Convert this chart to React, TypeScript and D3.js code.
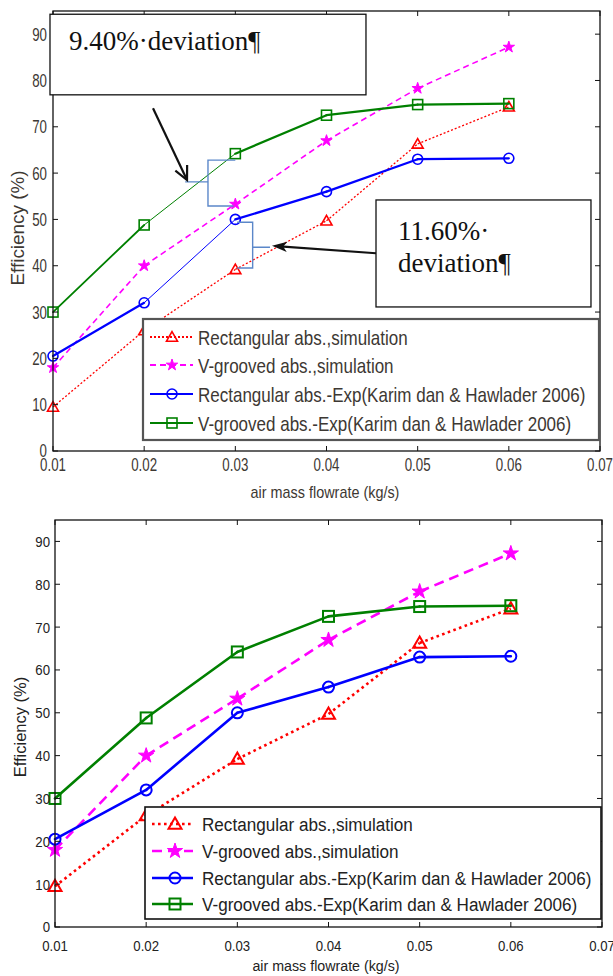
import React from 'react';
import * as d3 from 'd3';

// values
const flowrate = [0.01, 0.02, 0.03, 0.04, 0.05, 0.06];
const rectSim = [9.5, 26, 39.2, 49.7, 66.3, 74.3];
const vSim = [18, 40, 53.3, 67, 78.3, 87.2];
const rectExp = [20.5, 32, 50, 56, 63, 63.2];
const vExp = [30, 48.8, 64.2, 72.5, 74.8, 75];
const xTicks = [0.01, 0.02, 0.03, 0.04, 0.05, 0.06, 0.07];
const yTicks = [0, 10, 20, 30, 40, 50, 60, 70, 80, 90];
const seriesNames = [
  'Rectangular abs.,simulation',
  'V-grooved abs.,simulation',
  'Rectangular abs.-Exp(Karim dan & Hawlader 2006)',
  'V-grooved abs.-Exp(Karim dan & Hawlader 2006)',
];
const seriesValues = [rectSim, vSim, rectExp, vExp];

const SANS = '"Liberation Sans", Arial, sans-serif';
const SERIF = '"Liberation Serif", "Times New Roman", serif';
const COLORS = ['#ff0000', '#ff00ff', '#0000ff', '#008000'];
const MARKERS = ['triangle', 'star', 'circle', 'square'];

// squeezed text, the scanned figure is stretched
const SText = ({ x, y, size, sx = 1, anchor = 'start', rotate = 0, family = SANS, fill = '#111', children }: any) => (
  <text
    transform={`translate(${x},${y}) rotate(${rotate}) scale(${sx},1)`}
    fontSize={size}
    fontFamily={family}
    textAnchor={anchor}
    fill={fill}
  >
    {children}
  </text>
);

const Marker = ({ kind, x, y, color, size, sw }: any) => {
  if (kind === 'circle')
    return <circle cx={x} cy={y} r={size / 2} fill="none" stroke={color} strokeWidth={sw} />;
  if (kind === 'square')
    return <rect x={x - size / 2} y={y - size / 2} width={size} height={size} fill="none" stroke={color} strokeWidth={sw} />;
  if (kind === 'triangle') {
    const d = d3.symbol(d3.symbolTriangle, size * size * 0.433)();
    return <path d={d!} transform={`translate(${x},${y + 1})`} fill="none" stroke={color} strokeWidth={sw} />;
  }
  const d = d3.symbol(d3.symbolStar, (size * size) / 4 / 0.89)();
  return <path d={d!} transform={`translate(${x},${y})`} fill={color} stroke={color} strokeWidth={1} />;
};

const TOP = {
  frame: { left: 53, right: 600, top: 11, bottom: 451 },
  tickText: { size: 18, sx: 0.74, fill: '#3d3833' },
  xTickBase: 471,
  yTickRight: 47,
  xLabel: { x: 325, y: 498, size: 16, sx: 0.9 },
  yLabel: { x: 24, y: 228, size: 18, sx: 1.05 },
  widths: [
    [1.3, 1.3, 1.3, 1.3, 1.3],
    [1.6, 1.6, 1.6, 1.6, 1.6],
    [2.2, 1, 2.2, 2.2, 2.2],
    [1.8, 1, 2.2, 2.2, 2.2],
  ],
  dashes: ['2,2', '6,4', null, null],
  markerSize: [11, 12, 10, 10],
  markerSw: 1.6,
  legend: { x0: 143, x1: 599, y0: 319, y1: 440, rows: [337, 365, 394, 423], l0: 150, l1: 193, m: 172, tx: 198, size: 21, sx: 0.81, stroke: '#555', sw: 2.2 },
  textFill: '#3d3833',
};

const BOTTOM = {
  frame: { left: 55, right: 602, top: 520, bottom: 927 },
  tickText: { size: 15, sx: 0.88, fill: '#222' },
  xTickBase: 951,
  yTickRight: 50,
  xLabel: { x: 326, y: 971, size: 15, sx: 0.95 },
  yLabel: { x: 26, y: 727, size: 16.5, sx: 1 },
  widths: [
    [2.6, 2.6, 2.6, 2.6, 2.6],
    [2.6, 2.6, 2.6, 2.6, 2.6],
    [2.6, 2.6, 2.6, 2.6, 2.6],
    [2.6, 2.6, 2.6, 2.6, 2.6],
  ],
  dashes: ['2.6,3.4', '10,6', null, null],
  markerSize: [13, 16, 11, 11],
  markerSw: 2,
  legend: { x0: 145, x1: 601, y0: 807, y1: 919, rows: [824, 851, 878, 904], l0: 152, l1: 193, m: 175, tx: 202, size: 19, sx: 0.9, stroke: '#111', sw: 1.6 },
  textFill: '#222',
};

const Chart = ({ cfg, annotate }: any) => {
  const f = cfg.frame;
  const x = d3.scaleLinear().domain([0.01, 0.07]).range([f.left, f.right]);
  const y = d3.scaleLinear().domain([0, 95]).range([f.bottom, f.top]);
  const tl = 5;
  const L = cfg.legend;

  return (
    <g>
      {/* series */}
      {seriesValues.map((vals, s) => (
        <g key={s}>
          {vals.slice(0, -1).map((v, i) => (
            <line
              key={i}
              x1={x(flowrate[i])}
              y1={y(v)}
              x2={x(flowrate[i + 1])}
              y2={y(vals[i + 1])}
              stroke={COLORS[s]}
              strokeWidth={cfg.widths[s][i]}
              strokeDasharray={cfg.dashes[s] || undefined}
              strokeLinecap={cfg.dashes[s] ? 'butt' : 'round'}
            />
          ))}
          {vals.map((v, i) => (
            <Marker key={'m' + i} kind={MARKERS[s]} x={x(flowrate[i])} y={y(v)} color={COLORS[s]} size={cfg.markerSize[s]} sw={cfg.markerSw} />
          ))}
        </g>
      ))}

      {/* axes box and ticks */}
      <rect x={f.left} y={f.top} width={f.right - f.left} height={f.bottom - f.top} fill="none" stroke="#111" strokeWidth={1.3} />
      {xTicks.map((t) => (
        <g key={'x' + t}>
          <line x1={x(t)} x2={x(t)} y1={f.bottom} y2={f.bottom - tl} stroke="#111" />
          <line x1={x(t)} x2={x(t)} y1={f.top} y2={f.top + tl} stroke="#111" />
          <SText x={x(t)} y={cfg.xTickBase} size={cfg.tickText.size} sx={cfg.tickText.sx} anchor="middle" fill={cfg.tickText.fill}>
            {d3.format('.2f')(t)}
          </SText>
        </g>
      ))}
      {yTicks.map((t) => (
        <g key={'y' + t}>
          <line x1={f.left} x2={f.left + tl} y1={y(t)} y2={y(t)} stroke="#111" />
          <line x1={f.right} x2={f.right - tl} y1={y(t)} y2={y(t)} stroke="#111" />
          <SText x={cfg.yTickRight} y={y(t) + cfg.tickText.size * 0.36} size={cfg.tickText.size} sx={cfg.tickText.sx} anchor="end" fill={cfg.tickText.fill}>
            {t}
          </SText>
        </g>
      ))}
      <SText x={cfg.xLabel.x} y={cfg.xLabel.y} size={cfg.xLabel.size} sx={cfg.xLabel.sx} anchor="middle" fill={cfg.textFill}>
        air mass flowrate (kg/s)
      </SText>
      <SText x={cfg.yLabel.x} y={cfg.yLabel.y} size={cfg.yLabel.size} sx={cfg.yLabel.sx} anchor="middle" rotate={-90} fill={cfg.textFill}>
        Efficiency (%)
      </SText>

      {/* legend */}
      <rect x={L.x0} y={L.y0} width={L.x1 - L.x0} height={L.y1 - L.y0} fill="#fff" stroke={L.stroke} strokeWidth={L.sw} />
      {seriesNames.map((name, s) => (
        <g key={'l' + s}>
          <line x1={L.l0} x2={L.l1} y1={L.rows[s]} y2={L.rows[s]} stroke={COLORS[s]} strokeWidth={Math.max(cfg.widths[s][0], 2)} strokeDasharray={cfg.dashes[s] || undefined} />
          <Marker kind={MARKERS[s]} x={L.m} y={L.rows[s]} color={COLORS[s]} size={cfg.markerSize[s]} sw={cfg.markerSw} />
          <SText x={L.tx} y={L.rows[s] + L.size * 0.36} size={L.size} sx={L.sx} fill={cfg.textFill}>
            {name}
          </SText>
        </g>
      ))}

      {annotate && <Annotations x={x} y={y} />}
    </g>
  );
};

const Annotations = ({ x, y }: any) => {
  const brace = '#5b87c9';
  // brace 1: between V-grooved exp and sim at 0.03
  const b1 = [
    [0.03, 62.8], [0.027, 62.8], [0.027, 58.1], [0.0245, 58.1], [0.027, 58.1], [0.027, 52.9], [0.0298, 52.9],
  ];
  // brace 2: between rectangular exp and sim at 0.03
  const b2 = [
    [0.0302, 49.4], [0.0319, 49.4], [0.0319, 44.0], [0.0338, 44.0], [0.0319, 44.0], [0.0319, 39.5], [0.0302, 39.5],
  ];
  const poly = d3.line<number[]>().x((d) => x(d[0])).y((d) => y(d[1]));
  // arrow 1 (open head)
  const a1t = [x(0.02097), y(74)];
  const a1h = [x(0.0247), y(58.5)];
  const ang1 = Math.atan2(a1h[1] - a1t[1], a1h[0] - a1t[0]);
  const hl = 15;
  const head1 = [
    [a1h[0] - hl * Math.cos(ang1 - 0.45), a1h[1] - hl * Math.sin(ang1 - 0.45)],
    a1h,
    [a1h[0] - hl * Math.cos(ang1 + 0.45), a1h[1] - hl * Math.sin(ang1 + 0.45)],
  ];
  // arrow 2 (filled head)
  const a2t = [x(0.04543), y(42.7)];
  const a2h = [x(0.03402), y(44.3)];
  const ang2 = Math.atan2(a2h[1] - a2t[1], a2h[0] - a2t[0]);
  const h2 = 16;
  const head2 = [
    a2h,
    [a2h[0] - h2 * Math.cos(ang2 - 0.33), a2h[1] - h2 * Math.sin(ang2 - 0.33)],
    [a2h[0] - h2 * 0.7 * Math.cos(ang2), a2h[1] - h2 * 0.7 * Math.sin(ang2)],
    [a2h[0] - h2 * Math.cos(ang2 + 0.33), a2h[1] - h2 * Math.sin(ang2 + 0.33)],
  ];
  const line2 = d3.line();
  return (
    <g>
      <path d={poly(b1)!} fill="none" stroke={brace} strokeWidth={1.4} />
      <path d={poly(b2)!} fill="none" stroke={brace} strokeWidth={1.4} />
      <line x1={a1t[0]} y1={a1t[1]} x2={a1h[0]} y2={a1h[1]} stroke="#111" strokeWidth={2.2} />
      <path d={line2(head1 as any)!} fill="none" stroke="#111" strokeWidth={2.2} />
      <line x1={a2t[0]} y1={a2t[1]} x2={a2h[0] - 8 * Math.cos(ang2)} y2={a2h[1] - 8 * Math.sin(ang2)} stroke="#111" strokeWidth={2.2} />
      <path d={line2(head2 as any)! + 'Z'} fill="#111" stroke="none" />

      <rect x={x(0.00967)} y={y(94.3)} width={x(0.04433) - x(0.00967)} height={y(76.9) - y(94.3)} fill="#fff" stroke="#111" strokeWidth={1.3} />
      <SText x={x(0.01175)} y={y(86.6)} size={27} family={SERIF} fill="#111">
        9.40%·deviation¶
      </SText>
      <rect x={x(0.04543)} y={y(54.2)} width={x(0.06901) - x(0.04543)} height={y(31.1) - y(54.2)} fill="#fff" stroke="#111" strokeWidth={1.3} />
      <SText x={x(0.04784)} y={y(45.6)} size={27} family={SERIF} fill="#111">
        11.60%·
      </SText>
      <SText x={x(0.04784)} y={y(38.6)} size={27} family={SERIF} fill="#111">
        deviation¶
      </SText>
    </g>
  );
};

export default function App() {
  return (
    <svg width={613} height={976} style={{ position: 'absolute', left: 0, top: 0, background: '#fff' }}>
      <rect width={613} height={976} fill="#fff" />
      <Chart cfg={TOP} annotate />
      <Chart cfg={BOTTOM} />
    </svg>
  );
}
